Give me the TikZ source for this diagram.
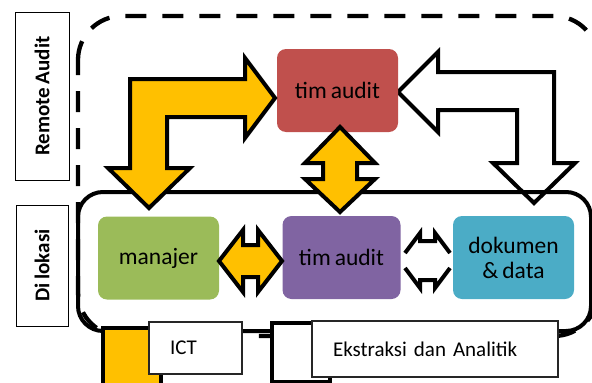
\documentclass[tikz,border=0pt]{standalone}
\usepackage{fontspec}
\setmainfont{Carlito}[WordSpace=0.75]
\definecolor{boxred}{HTML}{C0504D}
\definecolor{boxgreen}{HTML}{9BBB59}
\definecolor{boxpurple}{HTML}{8064A2}
\definecolor{boxcyan}{HTML}{4BACC6}
\definecolor{arrowgold}{HTML}{FFC000}
\begin{document}
\begin{tikzpicture}[x=1pt,y=-1pt,
  box/.style={rounded corners=9pt, minimum width=121pt, minimum height=83pt,
    inner sep=0pt, align=center, font=\fontsize{23.5}{25}\selectfont},
  blockarrow/.style={draw=black, line width=4pt, line join=miter, miter limit=10},
  sidelabel/.style={draw=black, line width=1pt, rotate=90, inner sep=0pt,
    font=\bfseries\fontsize{21}{24}\selectfont},
  legendbox/.style={draw=black!85, line width=1.2pt, fill=white, inner xsep=21pt,
    inner ysep=0pt, align=left, font=\fontsize{21}{24}\selectfont},
  legendkey/.style={draw=black, line width=4pt}]
\useasboundingbox (0,0) rectangle (592,383);

% remote zone (dashed)
\draw[line width=4.3pt, dash pattern=on 21pt off 16pt, dash phase=6pt, rounded corners=44pt]
  (78,16) rectangle (598,336);

% white bent arrow: tim audit <- dokumen
\draw[blockarrow, fill=white]
  (398,92) -- (438,52) -- (438,72) -- (554,72) -- (554,163) -- (575,163)
  -- (534,203) -- (493,163) -- (517,163) -- (517,110) -- (438,110) -- (438,132) -- cycle;

% on-site zone (solid)
\draw[line width=4pt, rounded corners=25pt] (78,192) rectangle (591,331);

% side labels
\node[sidelabel, minimum width=168pt, minimum height=54pt] (remote) at (42,96) {Remote Audit};
\node[sidelabel, minimum width=121pt, minimum height=52pt] (onsite) at (42,265.5) {Di lokasi};

% blocks
\node[box, fill=boxred] (timA) at (337.5,90.5) {tim audit};
\node[box, fill=boxgreen] (manajer) at (158.5,258) {manajer};
\node[box, fill=boxpurple, minimum width=118pt] (timB) at (341.5,257.5) {tim audit};
\node[box, fill=boxcyan] (dokumen) at (513.5,257.5) {dokumen\\\& data};

% gold bent arrow: tim audit -> manajer
\draw[blockarrow, fill=arrowgold]
  (130,79) -- (245,79) -- (245,58) -- (275,98) -- (245,138) -- (245,117)
  -- (167,117) -- (167,168) -- (190,168) -- (149,208) -- (108,168) -- (130,168) -- cycle;

% gold double arrow: tim audit <-> tim audit
\draw[blockarrow, fill=arrowgold]
  (340,127) -- (375,163) -- (357,163) -- (357,179) -- (375,179) -- (340,212)
  -- (305,179) -- (323,179) -- (323,163) -- (305,163) -- cycle;

% gold double arrow: manajer <-> tim audit
\draw[blockarrow, fill=arrowgold]
  (219,261) -- (243,230) -- (243,245) -- (258,245) -- (258,230) -- (282,261)
  -- (258,292) -- (258,277) -- (243,277) -- (243,292) -- cycle;

% open double arrow: tim audit <-> dokumen
\draw[blockarrow] (405,253) -- (420,233) -- (420,241) -- (435,241) -- (435,233) -- (450,253);
\draw[blockarrow] (405,268) -- (420,288) -- (420,280) -- (435,280) -- (435,288) -- (450,268);

% legend
\draw[legendkey, fill=arrowgold] (103,328) rectangle (161,392);
\node[legendbox, text width=51pt, minimum height=52pt] (ict) at (195.5,348) {ICT};
\draw[legendkey, fill=white] (272,323) rectangle (330,382);
\node[legendbox, text width=204pt, minimum height=56pt] (ekstraksi) at (435,349) {Ekstraksi dan Analitik};
\end{tikzpicture}
\end{document}
